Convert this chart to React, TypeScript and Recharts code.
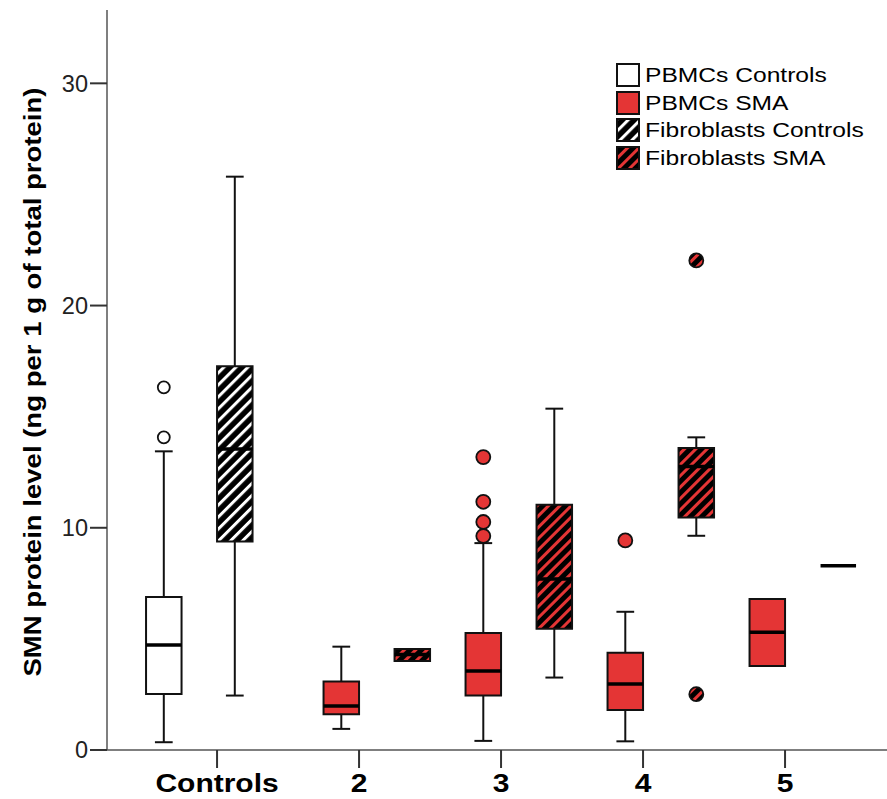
import React from 'react';
import {
  ComposedChart,
  XAxis,
  YAxis,
  Scatter,
  ReferenceArea,
  ReferenceLine,
  Legend,
  Label,
} from 'recharts';

// ---------- data ----------
const categories = ['Controls', '2', '3', '4', '5'];
const xTicks = [0, 1, 2, 3, 4];
const yTicks = [0, 10, 20, 30];
const yLabel = 'SMN protein level (ng per 1 g of total protein)';
const legendLabels = ['PBMCs Controls', 'PBMCs SMA', 'Fibroblasts Controls', 'Fibroblasts SMA'];

// box statistics per category index
const pbmcControls = [{ cat: 0, min: 0.35, q1: 2.52, median: 4.73, q3: 6.89, max: 13.44 }];
const pbmcSma = [
  { cat: 1, min: 0.95, q1: 1.61, median: 1.98, q3: 3.08, max: 4.65 },
  { cat: 2, min: 0.41, q1: 2.45, median: 3.56, q3: 5.26, max: 9.31 },
  { cat: 3, min: 0.39, q1: 1.8, median: 2.97, q3: 4.38, max: 6.22 },
  { cat: 4, min: 3.78, q1: 3.78, median: 5.3, q3: 6.79, max: 6.79 },
];
const fibroControls = [{ cat: 0, min: 2.45, q1: 9.38, median: 13.54, q3: 17.27, max: 25.8 }];
const fibroSma = [
  { cat: 1, min: 4.01, q1: 4.01, median: 4.3, q3: 4.54, max: 4.54 },
  { cat: 2, min: 3.26, q1: 5.46, median: 7.7, q3: 11.04, max: 15.36 },
  { cat: 3, min: 9.64, q1: 10.46, median: 12.76, q3: 13.59, max: 14.07 },
  { cat: 4, min: 8.29, q1: 8.29, median: 8.29, q3: 8.29, max: 8.29 },
];

const pbmcControlsOutliers = [
  { cat: 0, value: 14.07 },
  { cat: 0, value: 16.32 },
];
const pbmcSmaOutliers = [
  { cat: 2, value: 13.18 },
  { cat: 2, value: 11.17 },
  { cat: 2, value: 10.26 },
  { cat: 2, value: 9.63 },
  { cat: 3, value: 9.43 },
];
const fibroSmaOutliers = [
  { cat: 3, value: 2.51 },
  { cat: 3, value: 22.03 },
];

// ---------- style ----------
const RED = '#e43535';
const FONT = '"Liberation Sans", Arial, Helvetica, sans-serif';
const slotOffsets = [-0.375, -0.125, 0.125, 0.375];
const BOX_W = 0.25;
const CAP_W = 0.125;

type Box = { cat: number; min: number; q1: number; median: number; q3: number; max: number };

const groups = [
  { data: pbmcControls, slot: 0, fill: '#ffffff', key: 'pc' },
  { data: pbmcSma, slot: 1, fill: RED, key: 'ps' },
  { data: fibroControls, slot: 2, fill: 'url(#hatchWhite)', key: 'fc' },
  { data: fibroSma, slot: 3, fill: 'url(#hatchRed)', key: 'fs' },
];

const legendFills = ['#ffffff', RED, 'url(#hatchWhite)', 'url(#hatchRed)'];

function boxElements() {
  const whiskers: React.ReactElement[] = [];
  const boxes: React.ReactElement[] = [];
  const medians: React.ReactElement[] = [];
  groups.forEach((g) => {
    g.data.forEach((b: Box, i: number) => {
      const cx = b.cat + slotOffsets[g.slot];
      const k = `${g.key}-${i}`;
      if (b.max > b.q3) {
        whiskers.push(
          <ReferenceLine key={`wu-${k}`} segment={[{ x: cx, y: b.q3 }, { x: cx, y: b.max }]} stroke="#111" strokeWidth={2} />,
          <ReferenceLine key={`cu-${k}`} segment={[{ x: cx - CAP_W / 2, y: b.max }, { x: cx + CAP_W / 2, y: b.max }]} stroke="#111" strokeWidth={2} />
        );
      }
      if (b.min < b.q1) {
        whiskers.push(
          <ReferenceLine key={`wl-${k}`} segment={[{ x: cx, y: b.min }, { x: cx, y: b.q1 }]} stroke="#111" strokeWidth={2} />,
          <ReferenceLine key={`cl-${k}`} segment={[{ x: cx - CAP_W / 2, y: b.min }, { x: cx + CAP_W / 2, y: b.min }]} stroke="#111" strokeWidth={2} />
        );
      }
      if (b.q3 > b.q1) {
        boxes.push(
          <ReferenceArea
            key={`b-${k}`}
            x1={cx - BOX_W / 2}
            x2={cx + BOX_W / 2}
            y1={b.q1}
            y2={b.q3}
            fill={g.fill}
            fillOpacity={1}
            stroke="#111"
            strokeWidth={2}
          />
        );
      }
      medians.push(
        <ReferenceLine
          key={`m-${k}`}
          segment={[{ x: cx - BOX_W / 2, y: b.median }, { x: cx + BOX_W / 2, y: b.median }]}
          stroke="#000"
          strokeWidth={3.5}
        />
      );
    });
  });
  return [...whiskers, ...boxes, ...medians];
}

const toPoints = (arr: { cat: number; value: number }[], slot: number) =>
  arr.map((o) => ({ x: o.cat + slotOffsets[slot], y: o.value }));

const makeDot = (fill: string, r: number, strokeW: number) => (props: any) => {
  const { cx, cy } = props;
  if (cx == null || cy == null) return <g />;
  return <circle cx={cx} cy={cy} r={r} fill={fill} stroke="#111" strokeWidth={strokeW} />;
};

const XTick = (props: any) => {
  const { x, y, payload } = props;
  return (
    <g transform={`translate(${x},${y})`}>
      <text
        transform="scale(1.2,1)"
        textAnchor="middle"
        dy={22}
        fontFamily={FONT}
        fontWeight="bold"
        fontSize={25}
        fill="#000"
      >
        {categories[payload.value]}
      </text>
    </g>
  );
};

const YLabelContent = (props: any) => {
  const vb = props.viewBox || { x: 0, y: 10, width: 107, height: 740 };
  const cx = vb.x + 32;
  const cy = vb.y + vb.height / 2 + 2;
  return (
    <text
      x={cx}
      y={cy}
      transform={`rotate(-90, ${cx}, ${cy})`}
      textAnchor="middle"
      dominantBaseline="central"
      fontFamily={FONT}
      fontWeight="bold"
      fontSize={24.5}
      textLength={589}
      lengthAdjust="spacingAndGlyphs"
      fill="#000"
    >
      {yLabel}
    </text>
  );
};

const LegendContent = () => (
  <div style={{ fontFamily: FONT }}>
    {legendLabels.map((lab, i) => (
      <div key={lab} style={{ display: 'flex', alignItems: 'center', height: 27.7 }}>
        <svg width={24} height={24} style={{ display: 'block' }}>
          <rect x={1} y={1} width={22} height={22} fill={legendFills[i]} stroke="#111" strokeWidth={2} />
        </svg>
        <span
          style={{
            marginLeft: 5,
            fontSize: 20.5,
            color: '#000',
            display: 'inline-block',
            transform: 'scaleX(1.2)',
            transformOrigin: 'left center',
            whiteSpace: 'nowrap',
            lineHeight: '24px',
          }}
        >
          {lab}
        </span>
      </div>
    ))}
  </div>
);

export default function App() {
  return (
    <div style={{ position: 'absolute', left: 0, top: 0, width: 887, height: 799, background: '#fff' }}>
      <svg width={0} height={0} style={{ position: 'absolute' }}>
        <defs>
          <pattern id="hatchWhite" patternUnits="userSpaceOnUse" width={8.5} height={8.5} patternTransform="rotate(45)">
            <rect x={0} y={0} width={8.5} height={8.5} fill="#000" />
            <rect x={0} y={0} width={3} height={8.5} fill="#fff" />
          </pattern>
          <pattern id="hatchRed" patternUnits="userSpaceOnUse" width={8} height={8} patternTransform="rotate(45)">
            <rect x={0} y={0} width={8} height={8} fill="#000" />
            <rect x={0} y={0} width={3} height={8} fill={RED} />
          </pattern>
        </defs>
      </svg>
      <ComposedChart width={887} height={799} margin={{ top: 10, right: 0, bottom: 0, left: 0 }}>
        <XAxis
          type="number"
          dataKey="x"
          domain={[-0.775, 4.718]}
          ticks={xTicks}
          allowDataOverflow
          height={49}
          tickSize={18}
          tickLine={{ stroke: '#333', strokeWidth: 2 }}
          axisLine={{ stroke: '#555', strokeWidth: 1.5 }}
          tick={<XTick />}
          interval={0}
        />
        <YAxis
          type="number"
          dataKey="y"
          domain={[0, 33.3]}
          ticks={yTicks}
          allowDataOverflow
          width={107}
          tickSize={17}
          tickLine={{ stroke: '#333', strokeWidth: 2 }}
          axisLine={{ stroke: '#555', strokeWidth: 1.5 }}
          tick={{ fontFamily: FONT, fontSize: 23.5, fill: '#222' }}
        >
          <Label content={<YLabelContent />} />
        </YAxis>
        {boxElements()}
        <Scatter
          name="pbmcControlsOutliers"
          data={toPoints(pbmcControlsOutliers, 0)}
          dataKey="y"
          shape={makeDot('#fff', 6, 1.8)}
          isAnimationActive={false}
        />
        <Scatter
          name="pbmcSmaOutliers"
          data={toPoints(pbmcSmaOutliers, 1)}
          dataKey="y"
          shape={makeDot(RED, 7, 1.8)}
          isAnimationActive={false}
        />
        <Scatter
          name="fibroSmaOutliers"
          data={toPoints(fibroSmaOutliers, 3)}
          dataKey="y"
          shape={makeDot('url(#hatchRed)', 7, 1.8)}
          isAnimationActive={false}
        />
        <Legend
          layout="vertical"
          align="center"
          verticalAlign="middle"
          content={<LegendContent />}
          wrapperStyle={{ left: 616, top: 61, width: 260 }}
        />
      </ComposedChart>
    </div>
  );
}
